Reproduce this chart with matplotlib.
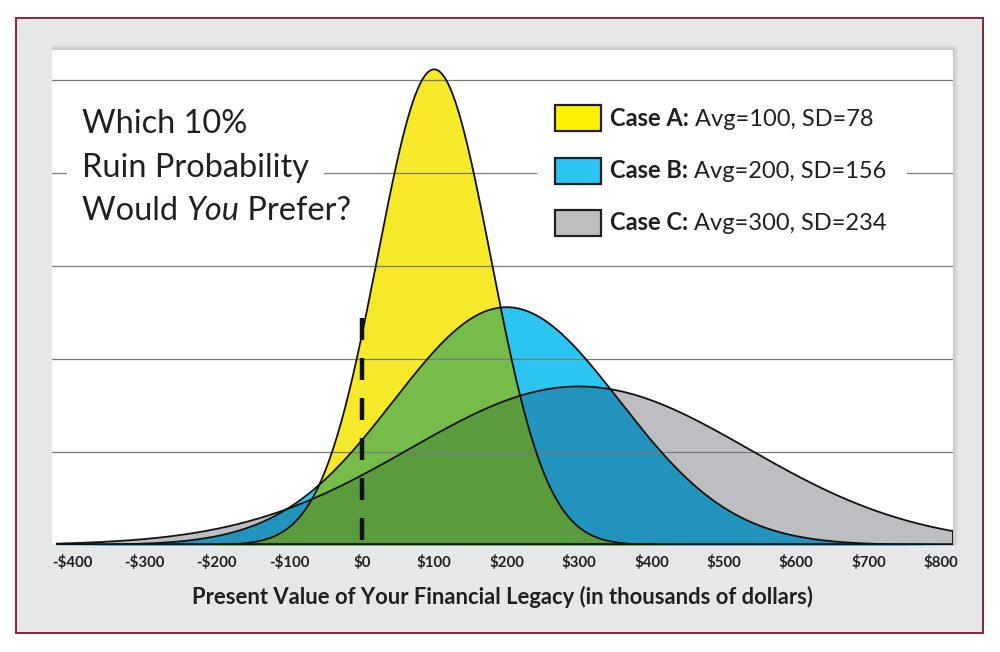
import numpy as np
import matplotlib.pyplot as plt
from matplotlib.patches import Rectangle

# data
case_names = ['Case A:', 'Case B:', 'Case C:']
case_texts = [' Avg=100, SD=78', ' Avg=200, SD=156', ' Avg=300, SD=234']
avgs = [100, 200, 300]
sds = [78, 156, 234]
tick_vals = [-400, -300, -200, -100, 0, 100, 200, 300, 400, 500, 600, 700, 800]
tick_labels = ['-$400', '-$300', '-$200', '-$100', '$0', '$100', '$200',
               '$300', '$400', '$500', '$600', '$700', '$800']
grid_levels = [0.001, 0.002, 0.003, 0.004, 0.005]
ruin_x = 0
ruin_top = 0.00244
x_start, x_end = -421, 816

# colours
c_gray = '#BDBEC1'
c_cyan = '#2CC4F1'
c_dblue = '#2293BD'
c_yellow = '#F5E92A'
c_lgreen = '#75BC4A'
c_dgreen = '#5A9B3D'
legend_cols = ['#FFF200', '#2BC4F3', '#BCBEC0']
txt_col = '#231F20'

W, H = 1000, 652
fig = plt.figure(figsize=(10, 6.52), dpi=100)


def fx(px):
    return px / W


def fy(py):
    return 1 - py / H


# outer frame and light gray background
fig.add_artist(Rectangle((fx(16), fy(633)), (983 - 16) / W, (633 - 18) / H,
                         transform=fig.transFigure, facecolor='#E6E7E8',
                         edgecolor='#8E2234', lw=1.4, zorder=-3))
# soft shadow of the white panel
for k in range(1, 6):
    fig.add_artist(Rectangle((fx(52), fy(545)), (953 - 52 + k) / W, (545 - 50 + k) / H,
                             transform=fig.transFigure, facecolor='k',
                             edgecolor='none', alpha=0.025, zorder=-2))

ax = fig.add_axes([fx(52), fy(545), (953 - 52) / W, (545 - 50) / H])
ax.set_facecolor('white')
for s in ax.spines.values():
    s.set_visible(False)

px0, scale = 361.7, 0.7242  # pixel of $0, pixels per thousand
ax.set_xlim((52 - px0) / scale, (953 - px0) / scale)
ax.set_ylim(0, 495 / 93000)

x = np.linspace(x_start, x_end, 1200)
pdfs = [np.exp(-0.5 * ((x - m) / s) ** 2) / (s * np.sqrt(2 * np.pi)) for m, s in zip(avgs, sds)]
A, B, C = pdfs

ax.fill_between(x, 0, C, color=c_gray, lw=0, zorder=1)
ax.fill_between(x, 0, B, color=c_cyan, lw=0, zorder=2)
ax.fill_between(x, 0, np.minimum(B, C), color=c_dblue, lw=0, zorder=3)
ax.fill_between(x, 0, A, color=c_yellow, lw=0, zorder=4)
ax.fill_between(x, 0, np.minimum(A, B), color=c_lgreen, lw=0, zorder=5)
ax.fill_between(x, 0, np.minimum(np.minimum(A, B), C), color=c_dgreen, lw=0, zorder=6)

for g in grid_levels:
    ax.axhline(g, color='#7A7A7A', lw=0.9, zorder=7)

for p in pdfs:
    ax.plot(x, p, color='#111111', lw=1.3, zorder=8)
ax.plot([x[-1], x[-1]], [0, C[-1]], color='#111111', lw=1.3, zorder=8)
ax.plot([x_start, x_end], [0, 0], color='#111111', lw=2.6, zorder=9, solid_capstyle='butt')

# dashed line at $0
ax.plot([ruin_x, ruin_x], [ruin_top, 0], color='#111111', lw=3.2,
        ls=(0, (4.95, 4.05)), zorder=10, dash_capstyle='butt')

ax.set_xticks(tick_vals, tick_labels)
ax.set_yticks([])
ax.tick_params(axis='x', length=0, pad=7, labelsize=10.8, labelcolor=txt_col)
for lab in ax.get_xticklabels():
    lab.set_family('Lato')
    lab.set_fontweight('bold')

fig.text(fx(503), fy(597), 'Present Value of Your Financial Legacy (in thousands of dollars)',
         ha='center', va='center', family='Lato', fontweight='bold', fontsize=15.8, color=txt_col)


def ax_x(px):
    return (px - 52) / 901


def ax_y(py):
    return (545 - py) / 495


# title block
fs_title = 23.4
title_kw = dict(family='Lato', fontsize=fs_title, color=txt_col, transform=ax.transAxes,
                zorder=12, va='baseline')
ax.text(ax_x(82), ax_y(133), 'Which 10%', **title_kw)
ax.text(ax_x(82), ax_y(177), 'Ruin Probability',
        bbox=dict(facecolor='white', edgecolor='none', pad=11), **title_kw)
t = ax.text(ax_x(82), ax_y(220), 'Would ', **title_kw)
t2 = ax.annotate('You', xy=(1, 0), xycoords=t, va='bottom', ha='left', family='Lato',
                 style='italic', fontsize=fs_title, color=txt_col, zorder=12)
ax.annotate(' Prefer?', xy=(1, 0), xycoords=t2, va='bottom', ha='left', family='Lato',
            fontsize=fs_title, color=txt_col, zorder=12)

# legend
fs_leg = 17
sw_top = [105, 158, 210]
base = [126, 178, 230]
for name, rest, col, top, b in zip(case_names, case_texts, legend_cols, sw_top, base):
    ax.add_patch(Rectangle((ax_x(537), ax_y(top + 32)), (907 - 537) / 901, 38 / 495,
                           transform=ax.transAxes, facecolor='white', edgecolor='none',
                           zorder=11))
    ax.add_patch(Rectangle((ax_x(555), ax_y(top + 26)), 46 / 901, 26 / 495,
                           transform=ax.transAxes, facecolor=col, edgecolor='#231F20',
                           lw=1.6, zorder=12))
    tb = ax.text(ax_x(610), ax_y(b), name, family='Lato', fontweight='bold', fontsize=fs_leg,
                 color=txt_col, transform=ax.transAxes, va='baseline', zorder=12)
    ax.annotate(rest, xy=(1, 0), xycoords=tb, va='bottom', ha='left', family='Lato',
                fontsize=fs_leg, color=txt_col, zorder=12)

fig.savefig('out.png', dpi=100, facecolor='white')
